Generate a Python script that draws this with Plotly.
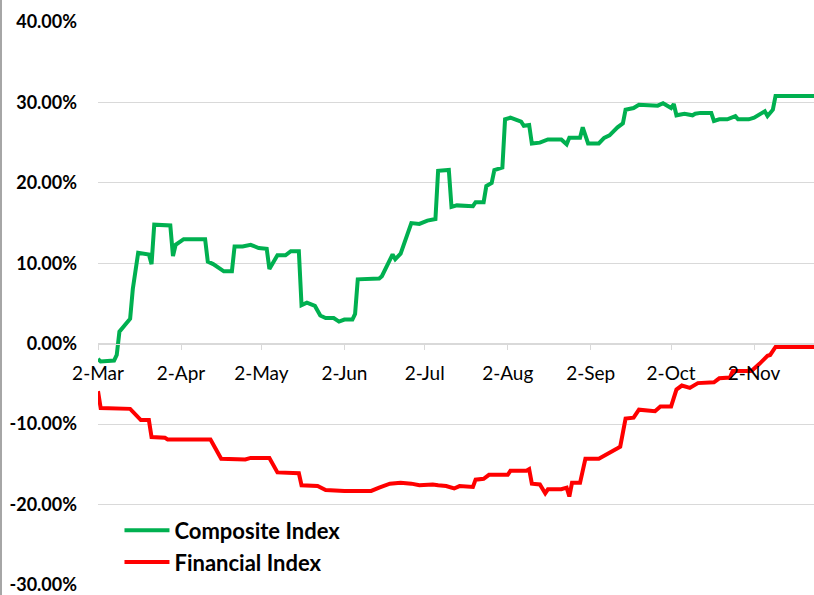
import plotly.graph_objects as go

# ---- data (values in %) ----
composite_dates = [
    "2020-03-02", "2020-03-03", "2020-03-08", "2020-03-09", "2020-03-10", "2020-03-12",
    "2020-03-14", "2020-03-15", "2020-03-17", "2020-03-21", "2020-03-22", "2020-03-23",
    "2020-03-28", "2020-03-29", "2020-03-30", "2020-03-31", "2020-04-03", "2020-04-11",
    "2020-04-12", "2020-04-14", "2020-04-18", "2020-04-21", "2020-04-22", "2020-04-25",
    "2020-04-28", "2020-05-01", "2020-05-04", "2020-05-05", "2020-05-08", "2020-05-11",
    "2020-05-13", "2020-05-16", "2020-05-17", "2020-05-19", "2020-05-22", "2020-05-24",
    "2020-05-26", "2020-05-29", "2020-05-31", "2020-06-02", "2020-06-05", "2020-06-06",
    "2020-06-07", "2020-06-12", "2020-06-15", "2020-06-16", "2020-06-20", "2020-06-21",
    "2020-06-23", "2020-06-27", "2020-06-30", "2020-07-03", "2020-07-06", "2020-07-07",
    "2020-07-11", "2020-07-12", "2020-07-14", "2020-07-20", "2020-07-21", "2020-07-24",
    "2020-07-25", "2020-07-27", "2020-07-28", "2020-07-31", "2020-08-01", "2020-08-03",
    "2020-08-07", "2020-08-08", "2020-08-10", "2020-08-11", "2020-08-14", "2020-08-17",
    "2020-08-22", "2020-08-24", "2020-08-25", "2020-08-29", "2020-08-30", "2020-09-01",
    "2020-09-05", "2020-09-07", "2020-09-09", "2020-09-12", "2020-09-14", "2020-09-15",
    "2020-09-18", "2020-09-20", "2020-09-27", "2020-09-29", "2020-10-02", "2020-10-03",
    "2020-10-04", "2020-10-07", "2020-10-10", "2020-10-11", "2020-10-13", "2020-10-17",
    "2020-10-18", "2020-10-20", "2020-10-23", "2020-10-26", "2020-10-27", "2020-10-31",
    "2020-11-02", "2020-11-06", "2020-11-07", "2020-11-09", "2020-11-10", "2020-11-27",
]
composite_values = [
    -1.9, -2.2, -2.1, -1.4, 1.5, 2.3,
    3.1, 6.8, 11.3, 11.1, 9.9, 14.8,
    14.8, 14.7, 10.9, 12.3, 13.0, 13.0,
    10.2, 9.9, 9.0, 9.0, 12.1, 12.1,
    12.3, 11.9, 11.8, 9.3, 11.0, 11.0,
    11.5, 11.5, 4.8, 5.1, 4.7, 3.5,
    3.2, 3.2, 2.75, 3.0, 3.0, 3.7,
    8.0, 8.0, 8.1, 8.4, 11.1, 10.5,
    11.2, 15.0, 14.9, 15.3, 15.5, 21.5,
    21.6, 17.0, 17.2, 17.1, 17.6, 17.6,
    19.6, 20.0, 21.6, 21.9, 27.9, 28.1,
    27.6, 27.1, 27.2, 24.9, 25.0, 25.4,
    25.4, 24.8, 25.6, 25.6, 26.9, 24.9,
    24.9, 25.6, 25.9, 26.9, 27.4, 29.1,
    29.3, 29.7, 29.6, 29.9, 29.3, 29.8,
    28.4, 28.6, 28.4, 28.6, 28.7, 28.7,
    27.7, 27.9, 27.9, 28.3, 27.9, 27.9,
    28.1, 28.9, 28.3, 29.1, 30.8, 30.8,
]

financial_dates = [
    "2020-03-02", "2020-03-03", "2020-03-14", "2020-03-18", "2020-03-21", "2020-03-22",
    "2020-03-27", "2020-03-28", "2020-04-13", "2020-04-17", "2020-04-26", "2020-04-28",
    "2020-05-05", "2020-05-08", "2020-05-16", "2020-05-17", "2020-05-23", "2020-05-26",
    "2020-06-02", "2020-06-12", "2020-06-15", "2020-06-19", "2020-06-23", "2020-06-27",
    "2020-06-30", "2020-07-05", "2020-07-07", "2020-07-10", "2020-07-13", "2020-07-15",
    "2020-07-20", "2020-07-21", "2020-07-24", "2020-07-26", "2020-08-02", "2020-08-03",
    "2020-08-09", "2020-08-10", "2020-08-11", "2020-08-14", "2020-08-16", "2020-08-17",
    "2020-08-22", "2020-08-24", "2020-08-25", "2020-08-26", "2020-08-29", "2020-08-31",
    "2020-09-05", "2020-09-08", "2020-09-12", "2020-09-13", "2020-09-15", "2020-09-18",
    "2020-09-20", "2020-09-26", "2020-09-28", "2020-10-02", "2020-10-04", "2020-10-06",
    "2020-10-09", "2020-10-12", "2020-10-18", "2020-10-20", "2020-10-24", "2020-10-25",
    "2020-11-01", "2020-11-04", "2020-11-07", "2020-11-08", "2020-11-10", "2020-11-27",
]
financial_values = [
    -5.9, -8.0, -8.1, -9.5, -9.5, -11.6,
    -11.7, -11.9, -11.9, -14.3, -14.4, -14.2,
    -14.2, -16.0, -16.1, -17.6, -17.7, -18.2,
    -18.3, -18.3, -17.9, -17.4, -17.3, -17.4,
    -17.6, -17.5, -17.6, -17.7, -18.0, -17.7,
    -17.8, -16.9, -16.8, -16.3, -16.3, -15.8,
    -15.8, -15.6, -17.4, -17.5, -18.6, -18.1,
    -18.1, -17.9, -19.0, -17.3, -17.3, -14.3,
    -14.3, -13.8, -13.0, -12.8, -9.3, -9.2,
    -8.2, -8.4, -7.8, -7.8, -5.7, -5.2,
    -5.5, -4.9, -4.8, -4.3, -4.2, -3.4,
    -3.4, -2.5, -1.5, -1.4, -0.4, -0.4,
]

series_names = ["Composite Index", "Financial Index"]
series_colors = ["#00B050", "#FF0000"]

x_tick_dates = ["2020-03-02", "2020-04-02", "2020-05-02", "2020-06-02", "2020-07-02",
                "2020-08-02", "2020-09-02", "2020-10-02", "2020-11-02"]
x_tick_labels = ["2-Mar", "2-Apr", "2-May", "2-Jun", "2-Jul", "2-Aug", "2-Sep", "2-Oct", "2-Nov"]

y_tick_values = [-30, -20, -10, 0, 10, 20, 30, 40]
y_tick_labels = ["-30.00%", "-20.00%", "-10.00%", "0.00%", "10.00%", "20.00%", "30.00%", "40.00%"]

x_range = ["2020-03-02", "2020-11-24 08:40"]
y_range = [-30, 40]

# ---- figure ----
FONT = "Lato, 'Liberation Sans', sans-serif"
fig = go.Figure()
for name, dates, vals, col in [
    (series_names[0], composite_dates, composite_values, series_colors[0]),
    (series_names[1], financial_dates, financial_values, series_colors[1]),
]:
    fig.add_trace(go.Scatter(x=dates, y=vals, mode="lines", name=name,
                             line=dict(color=col, width=4)))

fig.update_layout(
    width=814, height=595,
    margin=dict(l=98, r=0, t=22, b=6),
    paper_bgcolor="white", plot_bgcolor="white",
    font=dict(family=FONT, color="black"),
    showlegend=True,
    legend=dict(x=0.030, y=0.134, xanchor="left", yanchor="top",
                bgcolor="rgba(0,0,0,0)", itemwidth=45, tracegroupgap=0,
                font=dict(size=22, family=FONT, color="black", weight="bold")),
    xaxis=dict(
        type="date", range=x_range,
        anchor="free", position=(0 - y_range[0]) / (y_range[1] - y_range[0]),
        showgrid=False, showline=True, linecolor="#D9D9D9", linewidth=1,
        ticks="outside", ticklen=5, tickcolor="#D9D9D9",
        tickvals=x_tick_dates, ticktext=x_tick_labels,
        tickfont=dict(size=19, family=FONT, color="black"),
        ticklabelstandoff=7,
    ),
    yaxis=dict(
        range=y_range, tickvals=y_tick_values, ticktext=y_tick_labels,
        showgrid=True, gridcolor="#D9D9D9", gridwidth=1,
        zeroline=False, showline=False, ticks="",
        tickfont=dict(size=18, family=FONT, color="black", weight="bold"),
        ticklabelstandoff=20, ticklabeloverflow="allow",
    ),
    shapes=[dict(type="line", xref="paper", yref="paper",
                 x0=-97 / 716, x1=-97 / 716, y0=-0.02, y1=1.05,
                 line=dict(color="#A6A6A6", width=2))],
)

fig.write_html("out.html", config={"displayModeBar": False},
               post_script="document.body.style.margin='0px';")
